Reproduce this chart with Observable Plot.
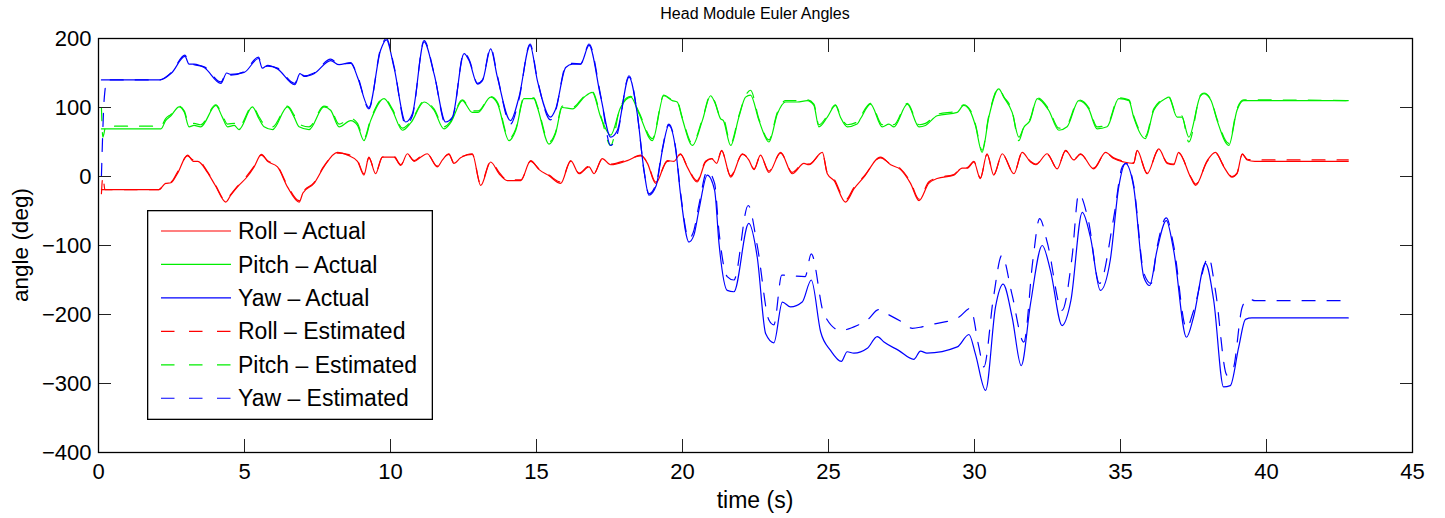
<!DOCTYPE html>
<html><head><meta charset="utf-8">
<script src="https://cdn.jsdelivr.net/npm/d3@7"></script>
<script src="https://cdn.jsdelivr.net/npm/@observablehq/plot@0.6"></script>
<style>
body{margin:0;background:#fff;font-family:"Liberation Sans",Arial,Helvetica,sans-serif;}
#wrap{position:relative;width:1445px;height:518px;overflow:hidden;}
.lbl{position:absolute;color:#000;white-space:nowrap;line-height:1;}
</style></head><body><div id="wrap"></div>
<script>
// ---------- data (time in s, angle in deg) ----------
const rollActT = [0.1,2.07,2.30,2.48,2.7,3.05,3.25,3.4,3.73,4.0,4.36,4.53,4.76,5.1,5.33,5.58,5.79,6.13,6.47,6.87,7.0,7.38,7.72,8.18,8.53,8.87,9.09,9.26,9.49,9.72,9.89,10.12,10.35,10.58,10.81,11.03,11.26,11.6,11.78,12.0,12.17,12.4,12.8,13.09,13.43,13.72,14.0,14.46,14.8,15.09,15.43,15.83,16.17,16.46,16.8,16.97,17.25,17.54,18.11,18.57,18.8,19.08,19.48,19.71,19.93,20.16,20.5,20.79,21.0,21.17,21.34,21.65,22.05,22.27,22.45,22.67,22.96,23.36,23.76,24.16,24.33,24.79,24.96,25.19,25.58,25.87,26.21,26.78,27.13,27.47,27.81,28.1,28.43,28.72,29.29,29.58,29.75,29.98,30.2,30.43,30.66,30.95,31.35,31.63,31.92,32.1,32.49,32.83,33.12,33.4,33.63,34.08,34.49,34.77,35.12,35.45,35.57,35.91,36.31,36.6,36.82,36.99,37.4,37.57,37.97,38.25,38.54,38.82,38.99,39.17,39.34,39.6,42.8];
const rollActV = [-19,-19,-10,-9,4,31,22,22,6,-13,-37,-27,-15,0,14,32,22,14,-15,-37,-24,-10,14,35,31,22,2,28,4,28,28,28,16,33,22,28,33,14,24,33,19,27,33,-13,21,4,-6,-6,23,10,1,-10,23,4,14,4,26,17,23,31,19,-10,23,22,33,14,-8,21,26,19,38,-1,33,24,10,31,6,35,4,19,17,35,4,-6,-37,-18,-1,28,17,10,-10,-35,-10,-3,2,12,12,21,-3,33,2,33,4,35,21,17,33,11,38,24,33,11,35,26,21,19,38,4,40,19,17,35,-1,-13,23,35,14,-1,4,33,24,22,22];

const rollEstT = [0.1,0.15,0.22,2.07,2.30,2.48,2.7,3.05,3.25,3.4,3.73,4.0,4.36,4.53,4.76,5.1,5.33,5.58,5.79,6.13,6.47,6.87,7.0,7.38,7.72,8.18,8.53,8.87,9.09,9.26,9.49,9.72,9.89,10.12,10.35,10.58,10.81,11.03,11.26,11.6,11.78,12.0,12.17,12.4,12.8,13.09,13.43,13.72,14.0,14.46,14.8,15.09,15.43,15.83,16.17,16.46,16.8,16.97,17.25,17.54,18.11,18.57,18.8,19.08,19.48,19.71,19.93,20.16,20.5,20.79,21.0,21.17,21.34,21.65,22.05,22.27,22.45,22.67,22.96,23.36,23.76,24.16,24.33,24.79,24.96,25.19,25.58,25.87,26.21,26.78,27.13,27.47,27.81,28.1,28.43,28.72,29.29,29.58,29.75,29.98,30.2,30.43,30.66,30.95,31.35,31.63,31.92,32.1,32.49,32.83,33.12,33.4,33.63,34.08,34.49,34.77,35.12,35.45,35.57,35.91,36.31,36.6,36.82,36.99,37.4,37.57,37.97,38.25,38.54,38.82,38.99,39.17,39.34,39.6,42.8];
const rollEstV = [-25,0,-19,-19,-9,-8,6,30,24,24,7,-12,-35,-26,-14,2,15,31,23,15,-13,-35,-23,-9,15,34,32,23,4,27,6,28,29,29,17,32,23,29,32,15,25,32,20,28,32,-11,22,6,-5,-5,22,11,2,-8,22,5,15,5,25,18,24,30,20,-8,22,23,32,15,-6,22,26,20,37,1,32,25,11,30,8,34,6,20,18,34,5,-4,-34,-16,0,27,18,11,-8,-33,-8,-2,3,13,13,22,-2,32,3,32,5,34,22,18,32,12,37,25,32,12,34,27,22,20,37,5,39,20,18,34,0,-11,22,34,15,0,5,32,25,24,24];

const pitchActT = [0.1,2.14,2.30,2.48,2.76,2.94,3.10,3.27,3.50,4.02,4.24,4.42,4.65,4.81,5.27,5.49,5.67,5.96,6.47,6.7,6.87,7.21,7.72,7.95,8.24,8.64,8.87,9.09,9.32,9.78,10.06,10.41,10.7,11.15,11.49,11.83,12.06,12.46,12.8,13.0,13.43,13.66,14.06,14.29,14.57,14.91,15.03,15.43,15.65,15.88,16.23,16.63,16.91,17.20,17.54,17.88,18.23,18.51,18.97,19.36,19.65,19.82,19.99,20.34,20.68,20.96,21.1,21.3,21.4,21.65,21.93,22.16,22.33,22.62,22.96,23.25,23.53,23.93,24.27,24.5,24.67,24.96,25.24,25.41,25.64,25.98,26.1,26.44,26.84,27.07,27.24,27.70,28.1,28.32,28.72,29.41,29.63,29.86,30.03,30.26,30.49,30.83,31.0,31.29,31.52,31.7,31.9,32.15,32.54,32.89,33.17,33.57,33.91,34.2,34.54,34.94,35.29,35.45,35.85,36.14,36.54,36.65,36.94,37.1,37.34,37.74,37.86,38.1,38.31,38.71,38.99,39.22,39.67,42.8];
const pitchActV = [69,69,81,88,101,93,72,74,72,103,86,72,74,68,101,84,72,68,101,86,72,68,101,96,72,81,74,52,81,113,96,67,78,108,96,69,78,110,93,93,115,106,52,67,113,113,100,47,62,100,98,115,122,86,60,100,115,91,52,117,110,108,84,45,81,117,108,84,81,45,86,115,118,81,50,91,108,108,110,103,72,86,103,86,72,76,84,105,72,76,72,105,72,74,88,93,103,94,74,35,86,127,115,93,57,72,81,113,96,67,72,110,98,69,72,113,110,86,55,96,113,115,86,86,57,117,120,110,81,45,96,110,110,110];

const pitchEstT = [0.1,0.15,0.25,2.14,2.30,2.48,2.76,2.94,3.10,3.27,3.50,4.02,4.24,4.42,4.65,4.81,5.27,5.49,5.67,5.96,6.47,6.7,6.87,7.21,7.72,7.95,8.24,8.64,8.87,9.09,9.32,9.78,10.06,10.41,10.7,11.15,11.49,11.83,12.06,12.46,12.8,13.0,13.43,13.66,14.06,14.29,14.57,14.91,15.03,15.43,15.65,15.88,16.23,16.63,16.91,17.20,17.54,17.88,18.23,18.51,18.97,19.36,19.65,19.82,19.99,20.34,20.68,20.96,21.1,21.3,21.4,21.65,21.93,22.16,22.33,22.62,22.96,23.25,23.53,23.93,24.27,24.5,24.67,24.96,25.24,25.41,25.64,25.98,26.1,26.44,26.84,27.07,27.24,27.70,28.1,28.32,28.72,29.41,29.63,29.86,30.03,30.26,30.49,30.83,31.0,31.29,31.52,31.7,31.9,32.15,32.54,32.89,33.17,33.57,33.91,34.2,34.54,34.94,35.29,35.45,35.85,36.14,36.54,36.65,36.94,37.1,37.34,37.74,37.86,38.1,38.31,38.71,38.99,39.22,39.67,42.8];
const pitchEstV = [100,57,73,73,84,90,102,95,76,77,75,104,89,76,77,72,102,87,76,72,102,89,76,72,102,98,76,84,77,55,83,114,98,70,80,109,98,72,80,111,95,95,116,108,55,69,114,114,102,50,64,102,100,116,123,88,45,102,116,93,55,118,111,109,86,48,83,118,109,86,84,48,88,117,125,83,53,93,110,110,111,105,75,88,104,88,75,79,87,106,75,79,75,106,75,77,90,95,104,96,76,38,88,128,116,95,52,74,83,114,98,70,75,111,100,72,75,114,111,88,58,98,114,116,88,88,50,118,121,111,83,48,98,111,111,110];

const yawActT = [0.1,2.1,2.5,2.96,3.10,3.27,3.62,4.19,4.39,4.53,4.99,5.48,5.61,5.79,6.13,6.72,6.90,7.05,7.38,7.95,8.24,8.64,8.87,9.26,9.66,9.86,10.12,10.52,10.75,11.15,11.49,11.89,12.12,12.52,12.69,12.98,13.15,13.43,13.66,14.11,14.40,14.78,15.03,15.48,15.65,16.0,16.23,16.51,16.80,17.20,17.54,17.77,18.17,18.45,18.68,18.85,19.1,19.31,19.53,19.77,19.93,20.22,20.39,20.56,20.85,21.1,21.25,21.53,21.76,22.27,22.56,22.85,23.13,23.42,23.70,24.10,24.41,24.73,25.07,25.44,25.64,25.87,26.33,26.67,26.9,27.4,27.92,28.15,28.37,29.41,29.81,30.03,30.38,30.72,30.98,31.29,31.60,31.92,32.32,32.6,33.0,33.3,33.69,33.97,34.31,34.65,34.94,35.17,35.45,35.80,36.0,36.25,36.57,36.82,37.26,37.5,37.91,38.19,38.53,38.76,39.05,39.28,39.5,42.8];
const yawActV = [140,140,150,174,163,163,158,135,150,148,151,171,157,161,156,133,149,145,149,168,162,165,144,100,183,198,158,79,91,195,149,79,86,178,168,134,139,185,144,81,115,190,139,86,97,158,163,163,190,115,57,67,144,91,9,-27,-13,38,74,38,-25,-95,-85,-49,2,-20,-97,-165,-167,-68,-117,-228,-241,-182,-189,-182,-150,-225,-252,-268,-254,-256,-249,-232,-240,-252,-265,-253,-256,-247,-229,-257,-310,-189,-156,-204,-274,-184,-100,-136,-216,-180,-52,-88,-165,-121,-15,19,-15,-146,-158,-107,-64,-107,-233,-204,-126,-179,-305,-303,-247,-207,-205,-205];

const yawEstT = [0.1,0.2,0.3,2.1,2.5,2.96,3.10,3.27,3.62,4.19,4.39,4.53,4.99,5.48,5.61,5.79,6.13,6.72,6.90,7.05,7.38,7.95,8.24,8.64,8.87,9.26,9.66,9.86,10.12,10.52,10.75,11.15,11.49,11.89,12.12,12.52,12.69,12.98,13.15,13.43,13.66,14.11,14.40,14.78,15.03,15.48,15.65,16.0,16.23,16.51,16.80,17.20,17.54,17.77,18.17,18.45,18.68,18.85,19.1,19.31,19.53,19.77,19.93,20.22,20.39,20.56,20.85,21.1,21.25,21.53,21.76,22.25,22.56,22.96,23.13,23.4,24.2,24.41,24.84,25.41,25.98,26.33,26.72,27.0,27.52,27.87,28.2,28.6,29.46,29.86,30.15,30.32,30.65,30.94,31.28,31.69,32.0,32.23,32.5,33.0,33.34,33.57,33.9,34.28,34.77,35.06,35.2,35.45,35.80,36.05,36.25,36.57,36.82,37.26,37.5,38.02,38.25,38.65,38.85,39.17,39.39,39.6,42.8];
const yawEstV = [0,115,140,140,151,176,165,162,159,137,151,147,152,173,158,160,157,135,150,146,150,170,163,164,146,98,185,200,160,75,88,197,150,76,84,180,170,135,140,187,146,76,112,192,141,82,95,160,164,163,192,117,45,62,146,91,9,-25,-10,40,76,40,-22,-90,-78,-42,8,-10,-80,-145,-150,-42,-100,-208,-215,-143,-145,-112,-199,-223,-216,-208,-193,-199,-211,-220,-218,-214,-204,-191,-247,-276,-175,-114,-170,-240,-121,-61,-97,-194,-117,-25,-64,-155,-59,14,19,-12,-140,-155,-103,-60,-100,-220,-195,-117,-165,-288,-280,-189,-177,-180,-180];

const xTicks = [0,5,10,15,20,25,30,35,40,45];
const yTicks = [-400,-300,-200,-100,0,100,200];
const seriesNames = ["Roll \u2013 Actual","Pitch \u2013 Actual","Yaw \u2013 Actual","Roll \u2013 Estimated","Pitch \u2013 Estimated","Yaw \u2013 Estimated"];
const seriesColors = ["#ff0000","#00ee00","#0000ff","#ff0000","#00ee00","#0000ff"];
const seriesDashed = [false,false,false,true,true,true];

// ---------- build ----------
const pairs = (ts, vs) => ts.map((t, i) => ({t, v: vs[i]}));
const seriesData = [
  pairs(rollActT, rollActV), pairs(pitchActT, pitchActV), pairs(yawActT, yawActV),
  pairs(rollEstT, rollEstV), pairs(pitchEstT, pitchEstV), pairs(yawEstT, yawEstV)
];
const DASH = "13,12";
const lineMarks = seriesData.map((d, i) => Plot.line(d, {
  x: "t", y: "v", stroke: seriesColors[i], strokeWidth: 1.2,
  strokeDasharray: seriesDashed[i] ? DASH : null, curve: "monotone-x"
}));
// draw estimated first, actual on top
const order = [3,4,5,0,1,2];

const FONT = "'Liberation Sans', Arial, Helvetica, sans-serif";
const chart = Plot.plot({
  width: 1445, height: 518,
  marginLeft: 98, marginRight: 33, marginTop: 38, marginBottom: 66,
  x: {domain: [0, 45]},
  y: {domain: [-400, 200]},
  style: {fontFamily: FONT, fontSize: "22px", color: "#000", background: "transparent", overflow: "visible"},
  marks: [
    ...order.map(i => lineMarks[i]),
    Plot.axisX(xTicks, {anchor: "bottom", tickSize: 13, dy: -13, fill: "none", label: null, stroke: "#222"}),
    Plot.axisX(xTicks, {anchor: "top", tickSize: 13, dy: 13, fill: "none", label: null, stroke: "#222"}),
    Plot.axisY(yTicks, {anchor: "left", tickSize: 13, dx: 13, fill: "none", label: null, stroke: "#222"}),
    Plot.axisY(yTicks, {anchor: "right", tickSize: 13, dx: -13, fill: "none", label: null, stroke: "#222"}),
    Plot.axisX(xTicks, {anchor: "bottom", tickSize: 0, tickPadding: 11, label: null, fontSize: 22, tickFormat: d => String(d)}),
    Plot.axisY(yTicks, {anchor: "left", tickSize: 0, tickPadding: 7, label: null, fontSize: 22, tickFormat: d => d < 0 ? "\u2212" + Math.abs(d) : String(d)}),
    Plot.frame({stroke: "#000", strokeWidth: 1.3})
  ]
});
chart.style.position = "absolute";
chart.style.left = "0px";
chart.style.top = "0px";
const wrap = document.getElementById("wrap");
wrap.appendChild(chart);

function addLabel(text, css) {
  const el = document.createElement("div");
  el.className = "lbl";
  el.textContent = text;
  Object.assign(el.style, css);
  wrap.appendChild(el);
  return el;
}
addLabel("Head Module Euler Angles", {left: "755px", top: "14px", fontSize: "16px", transform: "translate(-50%,-50%)"});
addLabel("time (s)", {left: "755px", top: "500px", fontSize: "23px", transform: "translate(-50%,-50%)"});
addLabel("angle (deg)", {left: "21px", top: "245px", fontSize: "22.5px", transform: "translate(-50%,-50%) rotate(-90deg)"});

// legend
const NS = "http://www.w3.org/2000/svg";
const leg = document.createElementNS(NS, "svg");
leg.setAttribute("width", 286); leg.setAttribute("height", 210);
Object.assign(leg.style, {position: "absolute", left: "147px", top: "210px"});
const box = document.createElementNS(NS, "rect");
box.setAttribute("x", 0.65); box.setAttribute("y", 0.65); box.setAttribute("width", 284.7); box.setAttribute("height", 208.7);
box.setAttribute("fill", "#fff"); box.setAttribute("stroke", "#000"); box.setAttribute("stroke-width", 1.3);
leg.appendChild(box);
seriesNames.forEach((name, i) => {
  const cy = 21 + i * 33.45;
  const ln = document.createElementNS(NS, "line");
  ln.setAttribute("x1", 14); ln.setAttribute("x2", 84); ln.setAttribute("y1", cy); ln.setAttribute("y2", cy);
  ln.setAttribute("stroke", seriesColors[i]); ln.setAttribute("stroke-width", 1.2);
  if (seriesDashed[i]) ln.setAttribute("stroke-dasharray", "13.5,14.5");
  leg.appendChild(ln);
  const tx = document.createElementNS(NS, "text");
  tx.setAttribute("x", 91); tx.setAttribute("y", cy); tx.setAttribute("dy", "0.35em");
  tx.setAttribute("font-family", FONT); tx.setAttribute("font-size", 23);
  tx.textContent = name;
  leg.appendChild(tx);
});
wrap.appendChild(leg);
</script>
</body></html>
